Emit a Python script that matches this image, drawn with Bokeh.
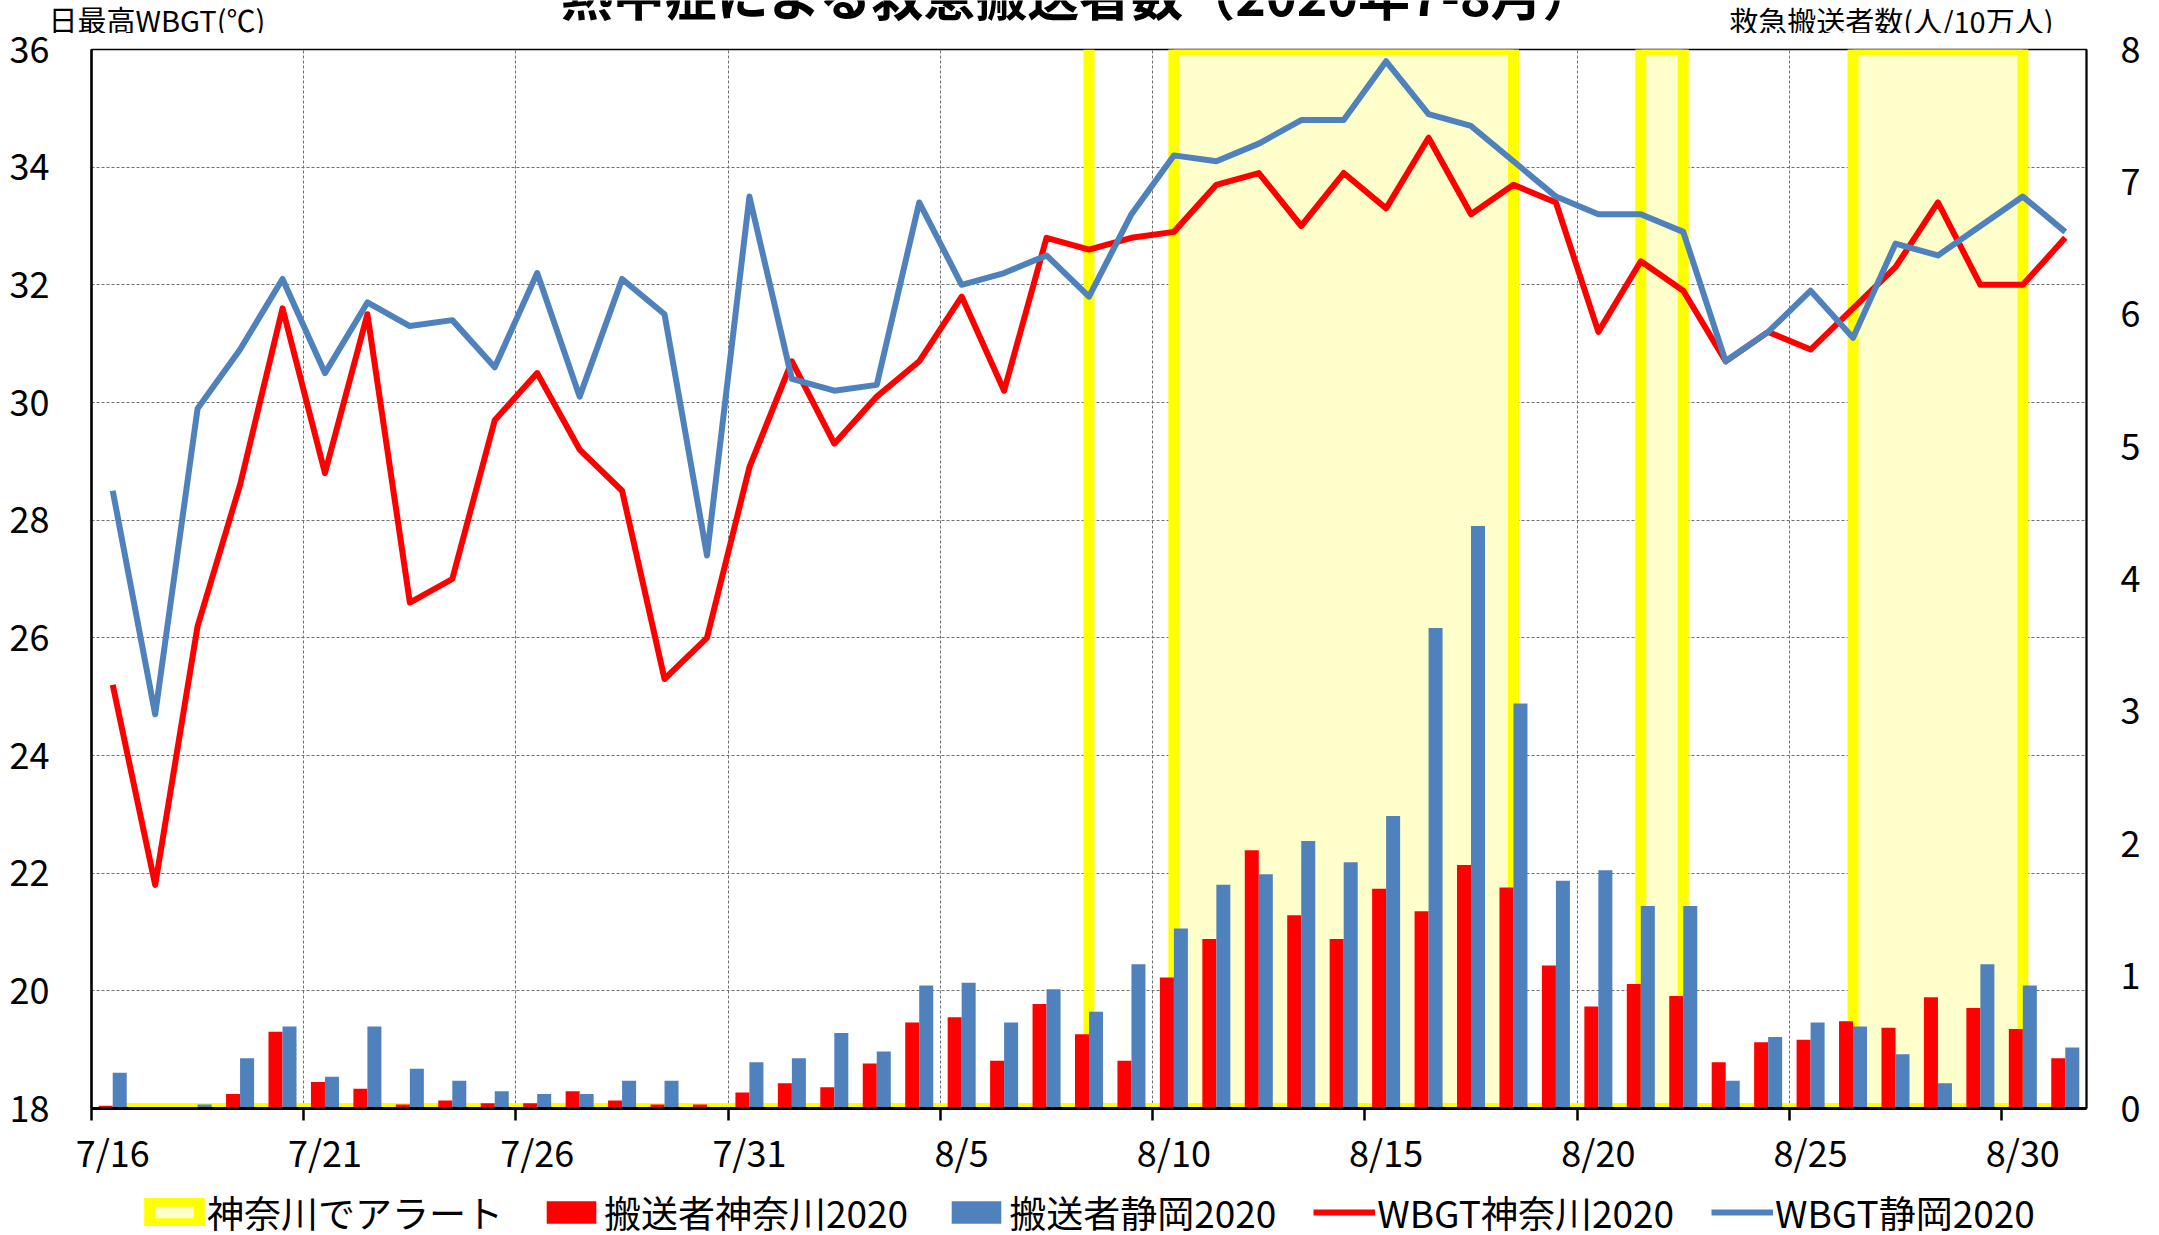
from bokeh.plotting import figure
from bokeh.layouts import column
from bokeh.models import (Range1d, LinearAxis, FixedTicker, ColumnDataSource, Legend,
                          LegendItem, Grid)
from bokeh.core.properties import value
from bokeh.transform import dodge
from bokeh.embed import file_html
from bokeh.resources import INLINE

# ---------------- data ----------------
dates = ["7/16", "7/17", "7/18", "7/19", "7/20", "7/21", "7/22", "7/23", "7/24", "7/25",
         "7/26", "7/27", "7/28", "7/29", "7/30", "7/31",
         "8/1", "8/2", "8/3", "8/4", "8/5", "8/6", "8/7", "8/8", "8/9", "8/10",
         "8/11", "8/12", "8/13", "8/14", "8/15", "8/16", "8/17", "8/18", "8/19", "8/20",
         "8/21", "8/22", "8/23", "8/24", "8/25", "8/26", "8/27", "8/28", "8/29", "8/30", "8/31"]

# 神奈川でアラート (value 8 = alert day, on the right axis)
alert_kanagawa = [0, 0, 0, 0, 0, 0, 0, 0, 0, 0,
                  0, 0, 0, 0, 0, 0, 0, 0, 0, 0,
                  0, 0, 0, 8, 0, 8, 8, 8, 8, 8,
                  8, 8, 8, 8, 0, 0, 8, 8, 0, 0,
                  0, 8, 8, 8, 8, 8, 0]

# 搬送者 (人/10万人)
hs_kanagawa = [0.02, 0.00, 0.01, 0.11, 0.58, 0.20, 0.15, 0.03, 0.06, 0.04,
               0.04, 0.13, 0.06, 0.03, 0.03, 0.12, 0.19, 0.16, 0.34, 0.65,
               0.69, 0.36, 0.79, 0.56, 0.36, 0.99, 1.28, 1.95, 1.46, 1.28,
               1.66, 1.49, 1.84, 1.67, 1.08, 0.77, 0.94, 0.85, 0.35, 0.50,
               0.52, 0.66, 0.61, 0.84, 0.76, 0.60, 0.38]
hs_shizuoka = [0.27, 0.00, 0.03, 0.38, 0.62, 0.24, 0.62, 0.30, 0.21, 0.13,
               0.11, 0.11, 0.21, 0.21, 0.00, 0.35, 0.38, 0.57, 0.43, 0.93,
               0.95, 0.65, 0.90, 0.73, 1.09, 1.36, 1.69, 1.77, 2.02, 1.86,
               2.21, 3.63, 4.40, 3.06, 1.72, 1.80, 1.53, 1.53, 0.21, 0.54,
               0.65, 0.62, 0.41, 0.19, 1.09, 0.93, 0.46]

# 日最高WBGT
wbgt_kanagawa = [25.2, 21.8, 26.2, 28.6, 31.6, 28.8, 31.5, 26.6, 27.0, 29.7,
                 30.5, 29.2, 28.5, 25.3, 26.0, 28.9, 30.7, 29.3, 30.1, 30.7,
                 31.8, 30.2, 32.8, 32.6, 32.8, 32.9, 33.7, 33.9, 33.0, 33.9,
                 33.3, 34.5, 33.2, 33.7, 33.4, 31.2, 32.4, 31.9, 30.7, 31.2,
                 30.9, 31.6, 32.3, 33.4, 32.0, 32.0, 32.8]
wbgt_shizuoka = [28.5, 24.7, 29.9, 30.9, 32.1, 30.5, 31.7, 31.3, 31.4, 30.6,
                 32.2, 30.1, 32.1, 31.5, 27.4, 33.5, 30.4, 30.2, 30.3, 33.4,
                 32.0, 32.2, 32.5, 31.8, 33.2, 34.2, 34.1, 34.4, 34.8, 34.8,
                 35.8, 34.9, 34.7, 34.1, 33.5, 33.2, 33.2, 32.9, 30.7, 31.2,
                 31.9, 31.1, 32.7, 32.5, 33.0, 33.5, 32.9]

wbgt_ticks = [18, 20, 22, 24, 26, 28, 30, 32, 34, 36]
rate_ticks = [0, 1, 2, 3, 4, 5, 6, 7, 8]
label_every = 5

title_text = "熱中症による救急搬送者数（2020年7-8月）"
left_title = "日最高WBGT(℃)"
right_title = "救急搬送者数(人/10万人)"
legend_labels = ["神奈川でアラート", "搬送者神奈川2020", "搬送者静岡2020",
                 "WBGT神奈川2020", "WBGT静岡2020"]

# ---------------- styling ----------------
FONT = "Noto Sans CJK JP"
RED = "#FF0000"
BLUE = "#4F81BD"
YELLOW = "#FFFF00"
LIGHT_YELLOW = "#FFFFCC"
GRID = "#6f6f6f"
W = 2159
TOP_H = 33
BOT_H = 53
MAIN_H = 1235 - TOP_H - BOT_H
ALERT_LW = 11
LINE_W = 6


def strip(h):
    f = figure(width=W, height=h, x_range=Range1d(0, W), y_range=Range1d(h, 0),
               x_axis_location=None, y_axis_location=None, toolbar_location=None,
               output_backend="svg", min_border=0, outline_line_color=None,
               background_fill_color="white", border_fill_color="white")
    f.grid.visible = False
    f.frame_align = False
    return f


# ---------------- derived series ----------------
n = len(dates)
idx = list(range(n))

# alert area: step outline built from the alert series
ax, ay = [0], [0]
i = 0
while i < n:
    if alert_kanagawa[i] > 0:
        j = i
        while j + 1 < n and alert_kanagawa[j + 1] > 0:
            j += 1
        ax += [i, i, j, j]
        ay += [0, alert_kanagawa[i], alert_kanagawa[j], 0]
        i = j + 1
    else:
        i += 1
ax.append(n - 1)
ay.append(0)

src = ColumnDataSource(dict(x=idx, hk=hs_kanagawa, hs=hs_shizuoka,
                            wk=wbgt_kanagawa, ws=wbgt_shizuoka))

# ---------------- header strip (titles) ----------------
top = strip(TOP_H)
top.text(x=[1078], y=[-7], text=[title_text], text_font=value(FONT),
         text_font_size=value("52px"), text_font_style="bold",
         text_align="center", text_baseline="alphabetic", text_color="black")
top.text(x=[48], y=[18], text=[left_title], text_font=value(FONT),
         text_font_size=value("29px"), text_align="left", text_baseline="middle",
         text_color="black")
top.text(x=[2053], y=[19], text=[right_title], text_font=value(FONT),
         text_font_size=value("29px"), text_align="right", text_baseline="middle",
         text_color="black")

# ---------------- main chart ----------------
p = figure(width=W, height=MAIN_H,
           x_range=Range1d(-0.5, n - 0.5), y_range=Range1d(wbgt_ticks[0], wbgt_ticks[-1]),
           output_backend="svg", toolbar_location=None,
           x_axis_location=None, y_axis_location=None,
           min_border_left=91, min_border_right=73, min_border_top=16,
           min_border_bottom=1235 - BOT_H - 1108,
           background_fill_color="white", border_fill_color="white")
p.frame_align = False
p.extra_y_ranges = {"right": Range1d(rate_ticks[0], rate_ticks[-1])}
p.outline_line_color = "black"
p.outline_line_width = 1.5
p.grid.visible = False

boundaries = [i - 0.5 for i in range(0, n, label_every)]
p.add_layout(Grid(dimension=0, ticker=FixedTicker(ticks=boundaries[1:]),
                  grid_line_color=GRID, grid_line_width=1, grid_line_dash="3 2"))
p.add_layout(Grid(dimension=1, ticker=FixedTicker(ticks=wbgt_ticks[1:-1]),
                  grid_line_color=GRID, grid_line_width=1, grid_line_dash="3 2"))

alert_style = dict(fill_color=LIGHT_YELLOW, line_color=YELLOW, line_width=ALERT_LW,
                   line_join="miter")
bw = 0.33
p.patch(x=ax, y=ay, y_range_name="right", **alert_style)
p.vbar(x=dodge("x", -bw / 2, range=p.x_range), top="hk", width=bw, bottom=0,
       source=src, y_range_name="right", fill_color=RED, line_color=None)
p.vbar(x=dodge("x", bw / 2, range=p.x_range), top="hs", width=bw, bottom=0,
       source=src, y_range_name="right", fill_color=BLUE, line_color=None)
p.line(x="x", y="wk", source=src, line_color=RED, line_width=LINE_W, line_join="round")
p.line(x="x", y="ws", source=src, line_color=BLUE, line_width=LINE_W, line_join="round")

p.add_layout(LinearAxis(ticker=FixedTicker(ticks=wbgt_ticks),
                        major_tick_out=0, major_tick_in=0, minor_tick_out=0, minor_tick_in=0,
                        axis_line_width=2.5, axis_line_color="black",
                        major_label_text_font=FONT, major_label_text_font_size="36px",
                        major_label_text_color="black", major_label_standoff=42), "left")

p.add_layout(LinearAxis(y_range_name="right", ticker=FixedTicker(ticks=rate_ticks),
                        major_tick_out=0, major_tick_in=0, minor_tick_out=0, minor_tick_in=0,
                        axis_line_width=2, axis_line_color="black",
                        major_label_text_font=FONT, major_label_text_font_size="36px",
                        major_label_text_color="black", major_label_standoff=34), "right")

p.add_layout(LinearAxis(ticker=FixedTicker(ticks=boundaries),
                        major_tick_out=12, major_tick_in=0, minor_tick_out=0, minor_tick_in=0,
                        major_tick_line_width=2.5, major_tick_line_color="black",
                        axis_line_width=3, axis_line_color="black",
                        major_label_text_font_size="1px", major_label_text_alpha=0,
                        major_label_standoff=0), "below")

label_pos = list(range(0, n, label_every))
p.add_layout(LinearAxis(ticker=FixedTicker(ticks=label_pos),
                        major_label_overrides={k: dates[k] for k in label_pos},
                        major_tick_out=0, major_tick_in=0, minor_tick_out=0, minor_tick_in=0,
                        major_tick_line_color=None, axis_line_color=None,
                        major_label_text_font=FONT, major_label_text_font_size="36px",
                        major_label_text_color="black", major_label_standoff=4), "below")

# ---------------- legend strip ----------------
# legend keys reuse the same series, mapped onto ranges that lie far outside this strip
bot = strip(BOT_H)
bot.extra_x_ranges = {"off": Range1d(5000, 5001)}
bot.extra_y_ranges = {"off": Range1d(5000, 5001)}
off = dict(x_range_name="off", y_range_name="off")
lg_alert = bot.patch(x=ax, y=ay, **alert_style, **off)
lg_bk = bot.vbar(x="x", top="hk", width=bw, bottom=0, source=src,
                 fill_color=RED, line_color=None, **off)
lg_bs = bot.vbar(x="x", top="hs", width=bw, bottom=0, source=src,
                 fill_color=BLUE, line_color=None, **off)
lg_wk = bot.line(x="x", y="wk", source=src, line_color=RED, line_width=LINE_W, **off)
lg_ws = bot.line(x="x", y="ws", source=src, line_color=BLUE, line_width=LINE_W, **off)
legend = Legend(items=[LegendItem(label=legend_labels[0], renderers=[lg_alert]),
                       LegendItem(label=legend_labels[1], renderers=[lg_bk]),
                       LegendItem(label=legend_labels[2], renderers=[lg_bs]),
                       LegendItem(label=legend_labels[3], renderers=[lg_wk]),
                       LegendItem(label=legend_labels[4], renderers=[lg_ws])],
                orientation="horizontal", location=(143, -4),
                glyph_width=62, glyph_height=28, label_standoff=2, spacing=37,
                padding=0, margin=0, border_line_color=None, background_fill_alpha=0,
                label_text_font=FONT, label_text_font_size="37px", label_text_color="black")
bot.add_layout(legend)

layout = column(top, p, bot, spacing=0)
open("out.html", "w").write(file_html(layout, INLINE))
